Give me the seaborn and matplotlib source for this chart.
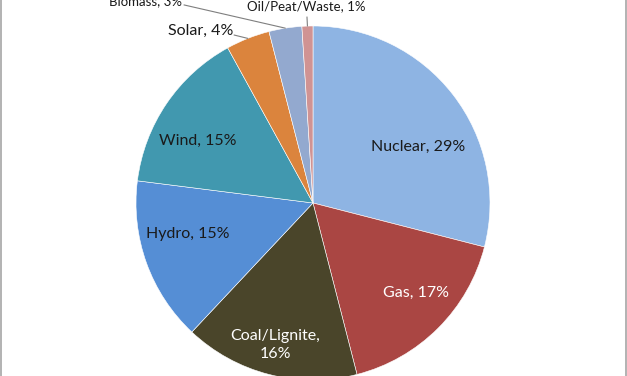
import numpy as np
import matplotlib
matplotlib.use("Agg")
import matplotlib.pyplot as plt
import seaborn as sns

# Parts du mix électrique
categories = ["Nuclear", "Gas", "Coal/Lignite", "Hydro", "Wind", "Solar", "Biomass", "Oil/Peat/Waste"]
shares = [29, 17, 16, 15, 15, 4, 3, 1]

colors = ["#8EB4E3", "#AA4643", "#4A452A", "#558ED5", "#4198AF", "#DB843D", "#93A9CF", "#D09393"]
text_colors = ["#1A1A1A", "white", "white", "#1A1A1A", "#1A1A1A", "#1A1A1A", "#1A1A1A", "#1A1A1A"]

# Mise en page des étiquettes (coordonnées du camembert, rayon = 1)
label_xy = [(0.593, 0.316), (0.582, -0.508), (-0.215, -0.802), (-0.706, -0.175),
            (-0.650, 0.350), (-0.452, 0.972), (-0.740, 1.141), (-0.040, 1.113)]
label_ha = ["center", "center", "center", "center", "center", "right", "right", "center"]
label_size = [11.5, 11.5, 11.5, 11.5, 11.5, 11.5, 9.5, 9.5]
# départ des traits de rappel pour les petites parts
leader_start = {5: (-0.446, 0.949), 6: (-0.729, 1.119), 7: (-0.034, 1.051)}

sns.set_theme(style="white")
plt.rcParams["font.family"] = ["Lato", "DejaVu Sans"]

fig = plt.figure(figsize=(6.27, 3.76), dpi=100)
ax = fig.add_axes([0.2169, -0.0106, 0.5646, 0.9415])

wedges, _ = ax.pie(shares, colors=colors, startangle=90, counterclock=False,
                   radius=1, wedgeprops=dict(edgecolor="white", linewidth=0.4))
ax.set_aspect("auto")
ax.set_xlim(-1, 1)
ax.set_ylim(-1, 1)
ax.axis("off")

for i, (name, val) in enumerate(zip(categories, shares)):
    sep = ",\n" if name == "Coal/Lignite" else ", "
    txt = f"{name}{sep}{val}%"
    x, y = label_xy[i]
    ax.text(x, y, txt, ha=label_ha[i], va="center", fontsize=label_size[i],
            color=text_colors[i], clip_on=False, linespacing=1.35)
    if i in leader_start:
        w = wedges[i]
        mid = np.deg2rad((w.theta1 + w.theta2) / 2)
        x0, y0 = leader_start[i]
        ax.plot([x0, np.cos(mid)], [y0, np.sin(mid)], color="#7F7F7F",
                linewidth=0.8, clip_on=False)

# cadre gris de la zone du graphique
fig.patches.append(plt.Rectangle((0.0015, -0.05), 0.997, 1.1, transform=fig.transFigure,
                                 fill=False, edgecolor="#A6A6A6", linewidth=1.2))

fig.savefig("out.png", dpi=100)
